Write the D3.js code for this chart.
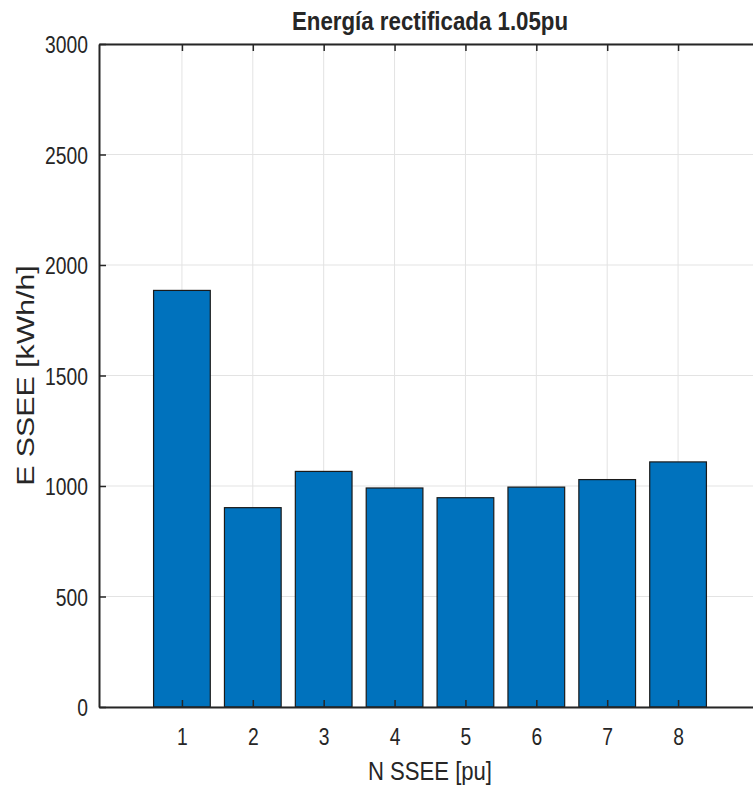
<!DOCTYPE html>
<html>
<head>
<meta charset="utf-8">
<script src="https://cdn.jsdelivr.net/npm/d3@7"></script>
<style>
  html, body { margin: 0; padding: 0; background: #fff; }
  svg { display: block; }
  text { font-family: "Liberation Sans", Arial, Helvetica, sans-serif; fill: #262626; }
</style>
</head>
<body>
<svg id="chart" width="753" height="791"></svg>
<script>
// Energy per substation
const categories = [1, 2, 3, 4, 5, 6, 7, 8];
const energy = [1885, 902, 1066, 991, 947, 995, 1029, 1109];
const yTicks = [0, 500, 1000, 1500, 2000, 2500, 3000];
const titleText = "Energía rectificada 1.05pu";
const xLabelText = "N SSEE [pu]";
const yLabelText = "E SSEE [kWh/h]";

const svg = d3.select("#chart");
const plotLeft = 99, plotTop = 44, plotBottom = 707, plotRight = 761;
const stretch = 1.2; // vertical stretch of horizontal text

const x = d3.scaleLinear().domain([-0.17, 9.17]).range([plotLeft, plotRight]);
const y = d3.scaleLinear().domain([0, 3000]).range([plotBottom, plotTop]);
const barW = (x(1) - x(0)) * 0.8;

// grid
const grid = svg.append("g");
grid.selectAll(".gx").data(categories).enter().append("line")
  .attr("x1", d => x(d)).attr("x2", d => x(d))
  .attr("y1", plotTop).attr("y2", plotBottom)
  .attr("stroke", "#e3e3e3").attr("stroke-width", 1);
grid.selectAll(".gy").data(yTicks).enter().append("line")
  .attr("x1", plotLeft).attr("x2", plotRight)
  .attr("y1", d => y(d)).attr("y2", d => y(d))
  .attr("stroke", "#e3e3e3").attr("stroke-width", 1);

// bars
svg.append("g").selectAll("rect").data(categories).enter().append("rect")
  .attr("x", (d) => x(d) - barW / 2)
  .attr("width", barW)
  .attr("y", (d, i) => y(energy[i]))
  .attr("height", (d, i) => y(0) - y(energy[i]))
  .attr("fill", "#0072BD")
  .attr("stroke", "#1a1a1a")
  .attr("stroke-width", 1.2);

// axes
const axisColor = "#262626";
const tickLen = 7;
const fmt = d3.format("d");
const xAxisB = d3.axisBottom(x).tickValues(categories).tickFormat(fmt).tickSizeInner(-tickLen).tickSizeOuter(0);
const xAxisT = d3.axisTop(x).tickValues(categories).tickSizeInner(-tickLen).tickSizeOuter(0).tickFormat("");
const yAxisL = d3.axisLeft(y).tickValues(yTicks).tickFormat(fmt).tickSizeInner(-tickLen).tickSizeOuter(0);

function style(g) {
  g.select(".domain").attr("stroke", axisColor).attr("stroke-width", 2);
  g.selectAll(".tick line").attr("stroke", axisColor).attr("stroke-width", 1.5);
  g.selectAll(".tick text").attr("fill", axisColor)
    .style("font-size", "19.3px")
    .style("font-family", '"Liberation Sans", Arial, sans-serif');
}

svg.append("g").attr("transform", `translate(0,${plotBottom})`).call(xAxisB).call(style)
  .selectAll(".tick text")
  .attr("y", 0).attr("dy", 0).attr("text-anchor", "middle")
  .attr("transform", `translate(0,38) scale(1,${stretch})`);
svg.append("g").attr("transform", `translate(0,${plotTop})`).call(xAxisT).call(style);
svg.append("g").attr("transform", `translate(${plotLeft},0)`).call(yAxisL).call(style)
  .selectAll(".tick text")
  .attr("x", 0).attr("y", 0).attr("dy", 0).attr("text-anchor", "end")
  .attr("transform", `translate(-11,8.5) scale(1,${stretch})`);

// labels
function label(str, tx, ty, opts) {
  const g = svg.append("g").attr("transform",
    `translate(${tx},${ty}) rotate(${opts.rotate || 0}) scale(${opts.sx || 1},${opts.sy || 1})`);
  g.append("text").attr("text-anchor", "middle")
    .style("font-size", opts.size + "px")
    .style("font-weight", opts.weight || "normal")
    .text(str);
}
label(titleText, x(4.5), 30, { size: 22.3, weight: "bold", sy: 1.17 });
label(xLabelText, x(4.5), 780, { size: 22.1, sy: 1.16 });
label(yLabelText, 33.5, (plotTop + plotBottom) / 2, { size: 23.3, rotate: -90, sx: 1.3 });
</script>
</body>
</html>
